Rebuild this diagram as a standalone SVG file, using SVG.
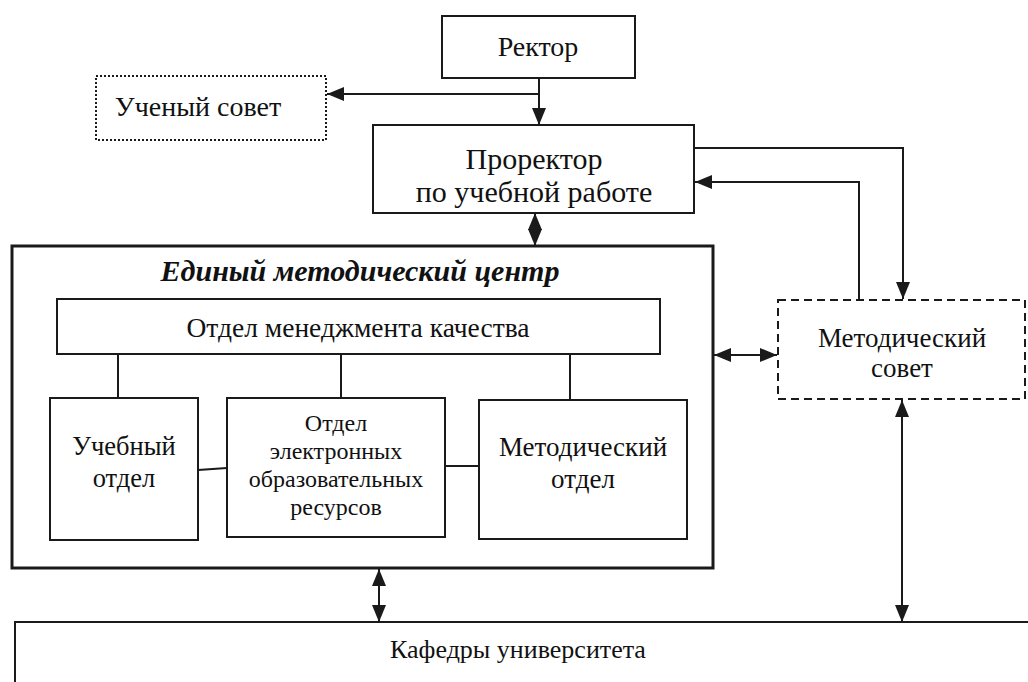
<svg xmlns="http://www.w3.org/2000/svg" width="1028" height="682" viewBox="0 0 1028 682">
<defs>
<marker id="ah" markerUnits="userSpaceOnUse" markerWidth="18" markerHeight="16" viewBox="0 0 18 16" refX="17" refY="8" orient="auto-start-reverse">
<path d="M0,1 L17,8 L0,15 Z" fill="#1a1a1a"/>
</marker>
</defs>
<style>
.box{fill:#fff;stroke:#1a1a1a;stroke-width:2}
.thick{fill:#fff;stroke:#1a1a1a;stroke-width:3}
.dot{fill:#fff;stroke:#1a1a1a;stroke-width:2;stroke-dasharray:2 2}
.dash{fill:#fff;stroke:#1a1a1a;stroke-width:2;stroke-dasharray:8 5}
.ln{fill:none;stroke:#1a1a1a;stroke-width:2}
</style>
<rect width="1028" height="682" fill="#fff"/>
<g id="rektor"><rect class="box" x="442" y="16" width="193" height="62"/><text x="538" y="56" font-size="28" font-family="Liberation Serif" text-anchor="middle" fill="#111">Ректор</text></g>
<g id="uchenyi-sovet"><rect class="dot" x="96" y="76" width="230" height="64"/><text x="198" y="116" font-size="28" font-family="Liberation Serif" text-anchor="middle" fill="#111">Ученый совет</text></g>
<g id="prorektor"><rect class="box" x="373" y="125" width="321" height="88"/><text x="534" y="169" font-size="30" font-family="Liberation Serif" text-anchor="middle" fill="#111">Проректор</text><text x="534" y="202" font-size="30" font-family="Liberation Serif" text-anchor="middle" fill="#111">по учебной работе</text></g>
<g id="center"><rect class="thick" x="12" y="246" width="701" height="322"/><text x="360" y="281" font-size="30" font-family="Liberation Serif" font-weight="bold" font-style="italic" text-anchor="middle" fill="#111">Единый методический центр</text></g>
<g id="otdel-menedzhmenta"><rect class="box" x="57" y="299" width="603" height="55"/><text x="358" y="337" font-size="27.5" font-family="Liberation Serif" text-anchor="middle" fill="#111">Отдел менеджмента качества</text></g>
<g id="uchebnyi-otdel"><rect class="box" x="50" y="398" width="148" height="142"/><text x="124" y="455" font-size="26.5" font-family="Liberation Serif" text-anchor="middle" fill="#111">Учебный</text><text x="124" y="487" font-size="26.5" font-family="Liberation Serif" text-anchor="middle" fill="#111">отдел</text></g>
<g id="otdel-eor"><rect class="box" x="227" y="398" width="218" height="139"/><text x="336" y="431" font-size="24" font-family="Liberation Serif" text-anchor="middle" fill="#111">Отдел</text><text x="336" y="459" font-size="24" font-family="Liberation Serif" text-anchor="middle" fill="#111">электронных</text><text x="336" y="487" font-size="24" font-family="Liberation Serif" text-anchor="middle" fill="#111">образовательных</text><text x="336" y="515" font-size="24" font-family="Liberation Serif" text-anchor="middle" fill="#111">ресурсов</text></g>
<g id="metodicheskiy-otdel"><rect class="box" x="479" y="400" width="208" height="139"/><text x="583" y="456" font-size="27" font-family="Liberation Serif" text-anchor="middle" fill="#111">Методический</text><text x="583" y="488" font-size="27" font-family="Liberation Serif" text-anchor="middle" fill="#111">отдел</text></g>
<g id="metodicheskiy-sovet"><rect class="dash" x="778" y="300" width="247" height="99"/><text x="902" y="347" font-size="27" font-family="Liberation Serif" text-anchor="middle" fill="#111">Методический</text><text x="902" y="377" font-size="27" font-family="Liberation Serif" text-anchor="middle" fill="#111">совет</text></g>
<g id="kafedry"><rect class="box" x="15" y="622" width="1030" height="80"/><text x="518" y="658" font-size="26" font-family="Liberation Serif" text-anchor="middle" fill="#111">Кафедры университета</text></g>
<g id="connectors">
<path class="ln" d="M539,78 V125" marker-end="url(#ah)"/>
<path class="ln" d="M539,94 H327" marker-end="url(#ah)"/>
<path class="ln" d="M535,213 V246" marker-start="url(#ah)" marker-end="url(#ah)"/>
<path class="ln" d="M694,148 H903 V299" marker-end="url(#ah)"/>
<path class="ln" d="M859,300 V182 H695" marker-end="url(#ah)"/>
<path class="ln" d="M714,355 H777" marker-start="url(#ah)" marker-end="url(#ah)"/>
<path class="ln" d="M379,569 V622" marker-start="url(#ah)" marker-end="url(#ah)"/>
<path class="ln" d="M902,400 V622" marker-start="url(#ah)" marker-end="url(#ah)"/>
<path class="ln" d="M118,354 V398 M341,354 V398 M570,354 V400"/>
<path class="ln" d="M198,470 L227,468 M445,466 H479"/>
</g>
</svg>
